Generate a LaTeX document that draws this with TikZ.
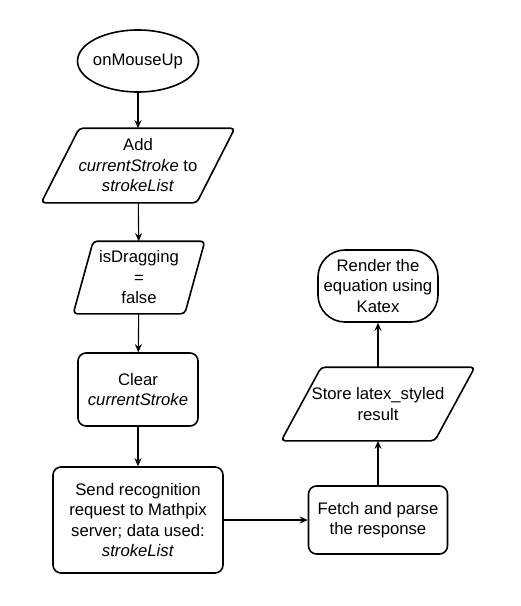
\documentclass[tikz,border=0pt]{standalone}
\usepackage{fontspec}
\setmainfont{Liberation Sans}
\usetikzlibrary{shapes.geometric,arrows.meta}
\tikzset{
  every node/.style={font=\fontsize{16.7pt}{20.5pt}\selectfont, align=center, line width=1.6pt},
  startstop/.style={draw, ellipse, inner xsep=-6pt, inner ysep=0pt, minimum width=121pt, minimum height=62pt},
  inout/.style={rectangle, inner sep=0pt},
  ioborder/.style={-, line width=1.6pt, rounded corners=4pt},
  process/.style={draw, rectangle, rounded corners=8pt},
  terminal/.style={draw, rectangle, rounded corners=27pt},
}
\begin{document}
\begin{tikzpicture}[x=1pt, y=-1pt, -{Stealth[length=8pt,width=7pt]}, line width=1.1pt]
         \useasboundingbox (0,0) rectangle (521,606);
         %nodes
         \node[startstop] at (138,61) (start) {onMouseUp};
         \node[inout, minimum width=192pt, minimum height=73pt] at (138,165.5) (add) {Add\\\textit{currentStroke} to\\\textit{strokeList}};
         \node[inout, minimum width=130pt, minimum height=71pt] at (139,277.5) (drag) {isDragging\\=\\false};
         \node[process, minimum width=120pt, minimum height=73pt] at (138,389.5) (clear) {Clear\\\textit{currentStroke}};
         \node[process, minimum width=170pt, minimum height=106pt] at (138,520) (send) {Send recognition\\request to Mathpix\\server; data used:\\\textit{strokeList}};
         \node[process, minimum width=139pt, minimum height=68pt] at (378,520) (fetch) {Fetch and parse\\the response};
         \node[inout, minimum width=192pt, minimum height=72pt] at (378,404) (store) {Store latex\_styled\\result};
         \node[terminal, minimum width=120pt, minimum height=72pt] at (378,286) (render) {Render the\\equation using\\Katex};
         % slanted borders of the input/output nodes
         \foreach \n/\s in {add/38, drag/20, store/40}
           \draw[ioborder] ([xshift=\s]\n.north west) -- (\n.north east) -- ([xshift=-\s]\n.south east) -- (\n.south west) -- cycle;
         % arrows between nodes
         \draw (start) -- (add); \draw (add) -- (drag);
         \draw (drag) -- (clear); \draw (clear) -- (send); \draw (send) -- (fetch);
         \draw (fetch) -- (store); \draw (store) -- (render);
        \end{tikzpicture}
\end{document}
